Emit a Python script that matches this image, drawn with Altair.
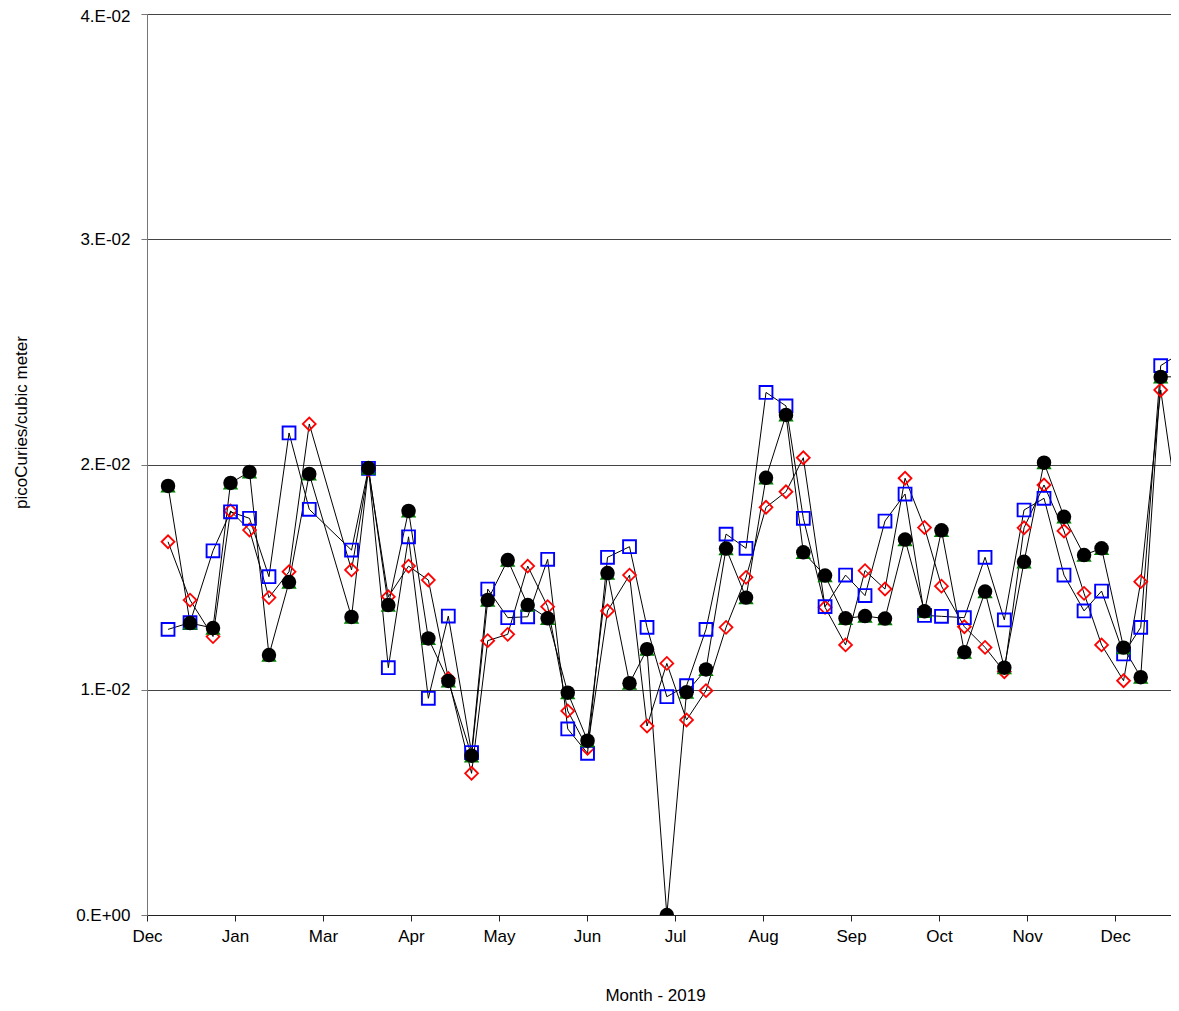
import altair as alt
import pandas as pd

# x positions in "month tick" units (0 = first Dec tick, 1 = Jan tick, ...)
xpos = [0.239, 0.489, 0.750, 0.949, 1.165, 1.386, 1.614, 1.844, 2.324, 2.517,
        2.742, 2.972, 3.197, 3.424, 3.688, 3.872, 4.099, 4.326, 4.553, 4.781,
        5.006, 5.233, 5.483, 5.682, 5.907, 6.131, 6.352, 6.580, 6.807, 7.034,
        7.261, 7.458, 7.705, 7.938, 8.159, 8.386, 8.614, 8.835, 9.028, 9.288,
        9.523, 9.742, 9.966, 10.193, 10.420, 10.648, 10.847, 11.097, 11.292, 11.519,
        11.966]

# values in units of 1E-02 pCi/m3
black = [1.905, 1.296, 1.274, 1.918, 1.967, 1.154, 1.478, 1.958, 1.323, 1.984,
         1.376, 1.794, 1.228, 1.039, 0.707, 1.398, 1.576, 1.376, 1.317, 0.987,
         0.774, 1.518, 1.029, 1.180, 0.0, 0.989, 1.090, 1.627, 1.409, 1.941,
         2.220, 1.610, 1.507, 1.317, 1.327, 1.316, 1.667, 1.348, 1.708, 1.167,
         1.436, 1.098, 1.568, 2.008, 1.768, 1.598, 1.628, 1.187, 1.056, 2.389,
         2.39]
red = [1.657, 1.398, 1.236, 1.794, 1.709, 1.409, 1.524, 2.180, 1.532, 1.976,
       1.413, 1.549, 1.487, 1.05, 0.629, 1.218, 1.246, 1.549, 1.369, 0.906,
       0.740, 1.350, 1.509, 0.839, 1.117, 0.866, 0.996, 1.277, 1.499, 1.810,
       1.879, 2.030, 1.366, 1.199, 1.529, 1.447, 1.939, 1.720, 1.460, 1.280,
       1.188, 1.080, 1.719, 1.909, 1.705, 1.428, 1.199, 1.040, 1.480, 2.331,
       1.11]
blue = [1.268, 1.298, 1.617, 1.790, 1.761, 1.502, 2.140, 1.801, 1.620, 1.983,
        1.098, 1.679, 0.962, 1.327, 0.721, 1.447, 1.320, 1.324, 1.579, 0.826,
        0.718, 1.588, 1.635, 1.277, 0.969, 1.018, 1.268, 1.691, 1.628, 2.320,
        2.260, 1.761, 1.369, 1.509, 1.418, 1.749, 1.869, 1.330, 1.326, 1.320,
        1.588, 1.310, 1.798, 1.850, 1.509, 1.350, 1.438, 1.159, 1.277, 2.439,
        2.55]

month_labels = ["Dec", "Jan", "Mar", "Apr", "May", "Jun", "Jul", "Aug", "Sep", "Oct", "Nov", "Dec"]
y_ticks = [0.0, 0.01, 0.02, 0.03, 0.04]

rows = []
for name, vals in [("red", red), ("blue", blue), ("green", black), ("black", black)]:
    for x, v in zip(xpos, vals):
        rows.append({"x": x, "v": v * 1e-2, "s": name})
df = pd.DataFrame(rows)

FONT = "Liberation Sans"
label_js = "[" + ",".join("'%s'" % m for m in month_labels) + "][round(datum.value)]"

xenc = alt.X("x:Q", scale=alt.Scale(domain=[0, 11.636], nice=False, zero=False),
             axis=alt.Axis(values=list(range(12)), labelExpr=label_js, grid=False,
                           tickSize=6, labelPadding=7, domainColor="#222", tickColor="#222",
                           labelFont=FONT, labelFontSize=17, labelColor="#000",
                           title="Month - 2019", titleFont=FONT, titleFontSize=17,
                           titleFontWeight="normal", titleColor="#000",
                           titleX=508, titleY=85, titleBaseline="alphabetic",
                           titleAlign="center", labelFlush=False))
yenc = alt.Y("v:Q", scale=alt.Scale(domain=[0, 0.04], nice=False),
             axis=alt.Axis(values=y_ticks,
                           labelExpr="datum.value == 0 ? '0.E+00' : format(datum.value*100, '.0f') + '.E-02'",
                           labelOffset={"condition": {"test": "datum.value >= 0.0399", "value": 2}, "value": 0},
                           grid=True, gridColor="#444", gridWidth=1,
                           tickSize=6, labelPadding=11, domainColor="#777", tickColor="#777",
                           labelFont=FONT, labelFontSize=17, labelColor="#000",
                           title="picoCuries/cubic meter", titleFont=FONT, titleFontSize=17,
                           titleFontWeight="normal", titleColor="#000",
                           titleAngle=270, titleX=-121, titleY=408,
                           titleBaseline="alphabetic", titleAlign="center"))

base = alt.Chart(df)

lines = base.transform_filter(alt.datum.s != "green").mark_line(
    color="black", strokeWidth=1, clip=True
).encode(x=xenc, y=yenc, detail="s:N", order="x:Q")

red_pts = base.transform_filter(alt.datum.s == "red").mark_point(
    shape="diamond", filled=False, stroke="#ff0000", strokeWidth=1.8, size=165, opacity=1, clip=True
).encode(x=xenc, y=yenc)
blue_pts = base.transform_filter(alt.datum.s == "blue").mark_point(
    shape="square", filled=False, stroke="#0000ff", strokeWidth=1.9, size=165, opacity=1, clip=True
).encode(x=xenc, y=yenc)
green_pts = base.transform_filter(alt.datum.s == "green").mark_point(
    shape="triangle-up", filled=True, fill="#008000", strokeWidth=0, size=235, opacity=1, clip=True
).encode(x=xenc, y=yenc)
black_pts = base.transform_filter(alt.datum.s == "black").mark_point(
    shape="circle", filled=True, fill="#000000", strokeWidth=0, size=210, opacity=1, clip=True
).encode(x=xenc, y=yenc)

chart = alt.layer(lines, red_pts, blue_pts, green_pts, black_pts).properties(
    width=1024, height=901,
    autosize=alt.AutoSizeParams(type="none"),
    padding={"left": 139, "top": 6, "right": 0, "bottom": 88},
).configure_view(stroke="transparent").configure(background="white")

chart.save("out.html", embed_options={"renderer": "svg", "actions": False})
